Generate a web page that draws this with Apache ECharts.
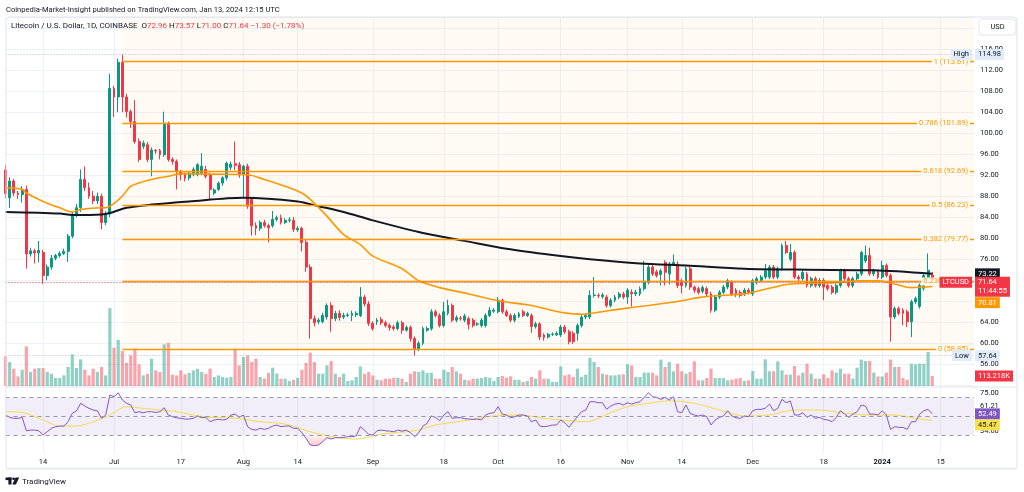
<!DOCTYPE html>
<html>
<head>
<meta charset="utf-8">
<script src="https://cdn.jsdelivr.net/npm/echarts@6/dist/echarts.min.js"></script>
<style>
html,body{margin:0;padding:0;background:#fff}
#chart{width:1024px;height:492px}
</style>
</head>
<body>
<div id="chart"></div>
<script>
// LTC/USD daily, 2023-06-05 .. 2024-01-13 (plus empty slots on the right)
const startDate = '2023-06-05'
const slotCount = 233

const opens = [
  93.0, 87.7, 90.9, 88.6, 88.3, 89.3, 77.0, 77.6, 77.2, 77.3,
  72.9, 74.5, 76.2, 76.7, 77.1, 77.5, 80.4, 84.6, 85.8, 91.2,
  89.6, 88.0, 87.1, 88.0, 83.0, 84.6, 108.5, 106.9, 113.5, 106.9,
  104.1, 102.2, 98.4, 97.5, 97.8, 95.0, 96.7, 96.7, 95.9, 101.9,
  95.0, 94.6, 92.7, 92.1, 91.5, 92.1, 92.1, 92.4, 93.1, 92.1,
  88.6, 89.3, 90.5, 91.5, 93.5, 94.2, 94.0, 92.1, 93.7, 87.4,
  82.4, 81.9, 83.0, 82.4, 82.4, 83.6, 83.9, 83.0, 83.4, 83.4,
  81.6, 81.9, 79.2, 74.5, 64.7, 64.1, 64.1, 65.0, 67.2, 64.7,
  65.7, 65.0, 65.3, 65.3, 65.4, 65.3, 68.8, 67.5, 63.8, 64.1,
  64.5, 63.9, 63.4, 63.1, 62.8, 63.9, 62.5, 63.0, 60.9, 58.9,
  60.0, 62.5, 62.8, 66.0, 65.3, 63.4, 65.7, 67.2, 64.4, 64.8,
  64.4, 64.7, 64.4, 63.6, 63.4, 63.4, 65.3, 66.1, 66.0, 68.2,
  66.0, 65.3, 64.4, 65.1, 66.0, 65.3, 65.3, 63.2, 63.7, 61.6,
  61.2, 61.7, 61.6, 61.6, 63.1, 62.2, 61.9, 61.9, 63.4, 65.0,
  65.0, 69.1, 69.1, 68.9, 68.8, 67.2, 68.2, 68.8, 69.4, 68.8,
  69.7, 69.4, 69.4, 70.4, 71.6, 74.5, 73.6, 73.1, 75.4, 73.2,
  75.1, 75.1, 71.9, 71.0, 74.2, 70.7, 70.4, 69.9, 70.4, 69.4,
  66.3, 68.8, 69.7, 70.7, 71.6, 70.1, 69.7, 69.4, 70.1, 69.4,
  71.6, 72.0, 72.6, 72.6, 74.5, 72.6, 74.2, 78.6, 76.0, 77.3,
  72.6, 72.3, 73.2, 71.0, 72.3, 71.0, 72.0, 71.0, 70.7, 69.7,
  71.0, 73.8, 72.3, 71.0, 72.3, 73.2, 75.7, 76.7, 73.2, 73.6,
  72.6, 74.8, 72.9, 65.0, 66.6, 66.3, 66.0, 64.1, 67.9, 67.0,
  70.5, 72.0, 72.96
]
const closes = [
  88.5, 90.9, 88.6, 88.3, 89.3, 77.0, 77.6, 77.2, 77.7, 72.9,
  74.5, 76.2, 76.7, 77.1, 77.5, 80.4, 84.6, 85.8, 91.2, 89.6,
  88.0, 87.1, 88.0, 83.0, 84.6, 108.5, 106.9, 113.5, 106.9, 104.1,
  102.2, 98.4, 95.0, 98.1, 95.0, 96.8, 96.6, 95.9, 101.9, 95.0,
  94.6, 92.7, 92.1, 91.4, 92.4, 93.1, 94.0, 93.7, 91.8, 89.3,
  89.2, 90.5, 91.5, 94.3, 94.1, 93.9, 92.1, 93.7, 86.1, 82.4,
  81.9, 83.0, 82.4, 82.0, 83.6, 83.9, 83.0, 83.4, 83.5, 81.7,
  81.9, 79.2, 74.5, 64.7, 63.9, 64.4, 65.3, 67.2, 64.7, 65.7,
  64.9, 65.3, 65.4, 65.7, 65.7, 68.8, 67.5, 63.8, 62.8, 64.4,
  63.9, 63.4, 63.0, 62.8, 63.9, 62.5, 63.0, 60.9, 59.0, 60.0,
  62.8, 62.8, 66.0, 65.3, 63.4, 66.0, 67.2, 64.4, 64.9, 64.7,
  65.2, 63.6, 63.4, 63.7, 64.4, 65.3, 66.3, 66.3, 68.2, 66.0,
  65.3, 64.4, 65.3, 65.6, 65.3, 65.7, 63.2, 63.7, 61.2, 61.1,
  61.7, 61.75, 61.9, 63.1, 62.2, 60.3, 60.3, 63.4, 65.0, 65.3,
  69.1, 69.2, 69.0, 69.2, 67.2, 68.2, 68.8, 69.4, 68.8, 70.1,
  69.4, 69.7, 70.4, 71.6, 74.5, 73.2, 72.9, 73.8, 73.5, 75.1,
  75.4, 71.0, 71.0, 74.2, 70.7, 70.1, 69.7, 70.6, 69.4, 66.3,
  68.8, 69.7, 70.7, 71.9, 69.4, 69.4, 69.1, 70.1, 69.7, 71.9,
  72.3, 72.6, 73.8, 74.5, 72.6, 74.2, 78.6, 77.3, 77.3, 72.6,
  72.3, 73.5, 71.0, 72.3, 71.0, 72.0, 70.7, 70.4, 69.7, 71.0,
  73.8, 72.3, 71.0, 72.3, 73.2, 77.3, 76.7, 73.2, 73.8, 72.6,
  74.8, 72.9, 65.0, 66.6, 65.7, 65.7, 64.1, 67.9, 68.5, 71.0,
  72.9, 73.9, 71.64
]
const lows = [
  87.6, 85.8, 88.0, 87.5, 86.8, 74.2, 76.5, 75.2, 75.4, 71.3,
  72.0, 74.0, 75.8, 76.3, 76.8, 75.5, 80.0, 84.0, 85.0, 89.0,
  87.5, 86.5, 86.5, 81.7, 82.5, 84.0, 103.1, 104.0, 104.0, 103.0,
  101.0, 98.0, 94.5, 97.0, 94.5, 91.8, 96.0, 95.0, 95.5, 94.6,
  94.0, 89.3, 91.0, 90.8, 91.0, 91.8, 91.8, 92.0, 91.4, 87.5,
  88.2, 89.0, 90.0, 91.0, 93.0, 93.0, 91.5, 87.7, 85.6, 80.5,
  80.6, 81.4, 82.0, 79.2, 82.0, 83.2, 82.6, 82.7, 83.0, 81.2,
  81.2, 77.5, 73.6, 60.9, 63.2, 63.6, 63.8, 64.5, 62.2, 64.2,
  64.3, 64.6, 65.0, 64.2, 65.0, 65.0, 67.0, 63.3, 62.4, 63.5,
  63.5, 63.0, 62.4, 62.4, 62.5, 61.8, 62.2, 60.3, 57.64, 58.5,
  59.6, 62.2, 62.4, 64.9, 63.0, 63.0, 65.3, 64.0, 64.0, 64.3,
  64.0, 62.6, 63.0, 63.3, 63.0, 63.0, 65.0, 65.8, 65.7, 65.6,
  65.0, 64.0, 64.0, 64.8, 65.0, 65.0, 62.0, 62.8, 60.6, 60.5,
  60.9, 61.4, 61.4, 61.2, 61.8, 59.8, 59.9, 60.5, 63.0, 64.6,
  64.6, 68.7, 68.6, 68.5, 66.8, 66.8, 67.8, 68.4, 68.4, 67.5,
  67.0, 69.0, 69.0, 70.0, 71.2, 72.8, 72.5, 71.0, 71.0, 71.2,
  74.8, 70.5, 69.5, 70.6, 70.2, 69.6, 69.3, 69.5, 69.0, 65.8,
  65.9, 68.4, 69.3, 70.3, 69.0, 68.8, 68.7, 69.0, 69.3, 69.0,
  71.2, 71.6, 72.2, 72.2, 72.2, 72.2, 73.8, 77.0, 75.6, 72.2,
  71.5, 71.9, 70.6, 70.6, 70.6, 70.6, 68.2, 70.0, 69.3, 69.3,
  70.6, 71.9, 70.6, 70.6, 71.9, 72.8, 75.3, 72.8, 72.8, 72.2,
  72.2, 72.5, 60.3, 64.6, 65.3, 63.4, 63.1, 61.2, 67.5, 66.6,
  70.0, 71.6, 71.00
]
const highs = [
  94.0, 91.6, 91.3, 89.0, 89.9, 90.0, 78.2, 78.0, 79.5, 77.8,
  75.0, 76.8, 77.0, 77.5, 78.0, 80.8, 85.0, 86.5, 93.1, 93.7,
  90.6, 89.0, 88.7, 88.5, 85.2, 111.3, 109.0, 114.2, 114.98, 107.5,
  104.5, 106.3, 99.0, 98.6, 98.3, 97.3, 97.0, 97.0, 104.1, 102.2,
  95.4, 95.0, 93.0, 92.5, 92.8, 93.5, 94.3, 96.2, 93.8, 92.5,
  89.5, 90.8, 91.8, 94.6, 94.6, 98.4, 94.5, 94.0, 94.2, 87.8,
  83.0, 83.4, 83.5, 82.8, 85.2, 84.3, 84.5, 83.8, 84.0, 84.0,
  82.3, 82.2, 79.7, 75.0, 65.3, 64.8, 65.8, 67.6, 67.8, 66.2,
  66.3, 65.8, 65.8, 66.2, 66.1, 70.7, 69.2, 68.0, 64.2, 64.8,
  65.0, 64.3, 63.8, 63.5, 64.3, 64.3, 63.4, 63.4, 61.3, 60.4,
  63.2, 63.2, 66.5, 66.4, 65.7, 67.9, 68.3, 67.6, 65.3, 65.2,
  65.6, 65.1, 64.8, 64.0, 64.8, 65.7, 66.9, 66.7, 68.8, 68.5,
  66.4, 65.7, 65.7, 66.0, 66.4, 66.0, 65.7, 64.1, 64.0, 61.9,
  62.0, 62.1, 62.3, 63.5, 63.5, 62.6, 62.3, 63.8, 65.4, 65.7,
  70.1, 72.6, 69.5, 69.6, 69.2, 68.6, 69.2, 69.8, 69.8, 70.5,
  70.3, 70.2, 70.8, 75.7, 75.0, 74.9, 74.0, 74.2, 75.8, 75.5,
  76.9, 75.6, 72.3, 74.6, 74.6, 71.0, 70.8, 71.0, 70.8, 69.8,
  69.2, 70.1, 71.1, 72.3, 72.0, 70.5, 70.1, 70.5, 70.5, 72.3,
  72.7, 73.0, 75.1, 74.9, 74.9, 74.6, 79.0, 79.5, 78.9, 77.7,
  73.0, 73.9, 73.6, 72.7, 72.7, 72.4, 72.4, 71.4, 71.1, 71.4,
  74.2, 74.2, 72.7, 72.7, 73.6, 77.6, 78.6, 78.2, 74.2, 74.0,
  75.7, 75.2, 73.3, 67.0, 67.0, 66.7, 66.4, 68.3, 68.9, 71.4,
  73.3, 77.1, 73.57
]
// volume in thousands
const volumes = [
  335, 271, 196, 109, 184, 448, 158, 196, 203, 203,
  158, 139, 90, 90, 120, 215, 358, 203, 301, 184,
  120, 196, 158, 215, 120, 880, 433, 520, 395, 260,
  347, 422, 245, 120, 139, 309, 177, 158, 471, 486,
  128, 120, 177, 132, 147, 177, 196, 158, 139, 196,
  102, 120, 102, 94, 102, 422, 233, 328, 347, 271,
  309, 102, 83, 147, 207, 139, 83, 83, 56, 71,
  94, 184, 260, 377, 271, 139, 139, 233, 282, 139,
  102, 139, 56, 64, 102, 222, 139, 158, 120, 71,
  64, 83, 83, 94, 94, 83, 45, 139, 166, 158,
  177, 147, 151, 83, 83, 184, 158, 215, 166, 139,
  71, 64, 83, 83, 90, 102, 94, 56, 102, 113,
  94, 109, 71, 71, 45, 56, 102, 83, 177, 83,
  83, 45, 45, 222, 120, 132, 102, 196, 102, 128,
  320, 271, 215, 139, 128, 120, 120, 128, 132, 245,
  233, 102, 102, 151, 151, 151, 120, 298, 215, 271,
  166, 252, 166, 139, 158, 279, 64, 64, 90, 196,
  90, 90, 90, 64, 71, 83, 90, 56, 64, 169,
  83, 83, 301, 166, 166, 279, 177, 128, 128, 226,
  120, 151, 252, 139, 83, 83, 132, 90, 177, 151,
  196, 139, 139, 83, 207, 298, 282, 282, 151, 109,
  109, 151, 298, 215, 215, 90, 71, 252, 245, 252,
  252, 384, 113.218
]
const rsiValues = [
  51.3, 48.8, 47.8, 47.8, 48.8, 34.6, 35.3, 35.3, 34.6, 30.1,
  33.6, 37.2, 38.9, 39.6, 39.6, 44.2, 53.1, 55.5, 63.7, 60.8,
  58.4, 56.6, 55.8, 47.8, 51.3, 72.5, 70.7, 74.9, 67.2, 63.7,
  61.9, 53.7, 54.8, 53.7, 54.8, 54.8, 54.0, 54.8, 59.0, 51.3,
  49.5, 48.4, 47.8, 47.0, 47.0, 47.8, 50.2, 48.4, 48.8, 44.2,
  46.0, 46.7, 46.0, 46.7, 51.3, 52.3, 48.8, 51.3, 38.9, 36.1,
  35.3, 37.2, 36.1, 37.2, 39.6, 40.7, 38.9, 39.6, 39.6, 37.2,
  37.2, 32.5, 26.6, 19.5, 18.7, 19.5, 23.0, 27.2, 25.8, 27.2,
  27.2, 27.6, 28.3, 28.3, 29.0, 38.9, 35.3, 30.8, 30.1, 34.6,
  35.3, 34.6, 34.2, 33.6, 35.3, 34.2, 35.3, 32.5, 28.3, 32.5,
  39.6, 42.5, 50.2, 48.8, 45.3, 51.3, 54.8, 47.8, 48.4, 48.5,
  47.4, 47.0, 46.7, 47.0, 46.0, 51.3, 53.1, 53.7, 60.1, 52.3,
  51.3, 48.4, 49.5, 51.3, 51.3, 50.2, 44.2, 46.0, 39.6, 38.9,
  39.6, 40.7, 40.7, 46.0, 43.1, 38.2, 44.2, 49.5, 54.8, 56.6,
  65.4, 65.4, 64.3, 64.3, 57.3, 60.8, 62.9, 63.7, 61.9, 64.3,
  62.9, 64.3, 65.4, 70.0, 74.9, 70.7, 70.0, 67.9, 70.0, 67.2,
  70.7, 54.8, 53.7, 61.9, 53.1, 51.3, 50.2, 51.3, 49.5, 40.7,
  46.0, 48.8, 50.2, 55.8, 50.2, 48.4, 47.8, 50.2, 49.5, 55.8,
  57.3, 57.3, 58.4, 62.9, 55.8, 58.4, 67.9, 64.3, 66.1, 51.3,
  51.3, 53.7, 48.8, 51.3, 47.8, 48.8, 46.7, 46.0, 44.2, 48.8,
  55.8, 52.3, 48.8, 52.3, 54.8, 61.9, 60.8, 52.3, 52.3, 51.3,
  55.8, 51.3, 36.1, 38.9, 38.2, 38.2, 36.1, 44.2, 44.2, 52.3,
  55.8, 57.3, 52.49
]
// moving averages read at a few points: [day index, value]
const ma200Points = [
  [0, 85.0], [13, 84.7], [16, 84.4], [23, 84.5], [25, 84.8], [29, 85.8], [35, 86.4],
  [44, 87.0], [57, 87.7], [70, 87.0], [75, 86.1], [81, 85.0], [88, 83.4], [100, 81.0],
  [110, 79.5], [120, 78.0], [131, 76.8], [140, 76.0], [152, 75.2], [163, 74.8],
  [177, 74.2], [192, 74.0], [208, 73.9], [222, 73.22]
]
const ma50Points = [
  [0, 89.6], [4, 89.3], [5, 88.6], [9, 87.0], [13, 85.8], [16, 85.0], [18, 85.5],
  [23, 85.8], [24, 85.8], [28, 88.0], [30, 89.9], [35, 91.2], [39, 91.8], [42, 92.3],
  [49, 92.2], [58, 92.1], [62, 91.2], [67, 89.9], [71, 88.6], [73, 87.4], [77, 84.2],
  [81, 80.7], [85, 78.8], [88, 76.6], [95, 74.2], [99, 71.9], [104, 70.6], [111, 69.4],
  [118, 68.1], [126, 67.2], [133, 65.9], [138, 65.5], [142, 65.9], [147, 66.5],
  [154, 67.2], [162, 68.1], [166, 68.7], [171, 69.1], [177, 69.4], [182, 70.3],
  [188, 71.3], [193, 71.4], [200, 71.6], [205, 71.9], [209, 71.9], [213, 71.3],
  [217, 70.6], [222, 70.81]
]
const rsiMaPoints = [
  [0, 54.8], [4, 54.0], [9, 46.0], [13, 39.6], [17, 39.6], [21, 44.2], [25, 51.3],
  [29, 60.1], [33, 58.4], [37, 56.6], [41, 54.8], [45, 51.3], [49, 48.8], [55, 47.8],
  [61, 44.2], [67, 41.7], [73, 33.6], [79, 27.6], [84, 25.8], [89, 30.1], [93, 32.5],
  [98, 34.6], [103, 40.7], [111, 46.0], [117, 50.2], [123, 51.3], [129, 47.8],
  [133, 46.0], [139, 44.2], [145, 53.7], [149, 60.1], [155, 64.3], [159, 66.4],
  [165, 63.7], [171, 56.6], [177, 50.2], [183, 51.3], [189, 56.6], [195, 56.6],
  [201, 53.1], [207, 51.3], [213, 51.3], [218, 47.8], [222, 45.47]
]
const fibStartIndex = 28
const fibRatios = ['1', '0.786', '0.618', '0.5', '0.382', '0.236', '0']
const fibPrices = [113.61, 101.89, 92.69, 86.23, 79.77, 71.77, 58.85]
const highPrice = 114.98
const lowPrice = 57.64
const lastChange = '−1.30 (−1.78%)'
const countdown = '11:44:55'
const rsiAxisValues = [75, 61.21, 34.6]
const rsiBands = [70, 50, 30]
const tickDates = ['2023-06-14', '2023-07-01', '2023-07-17', '2023-08-01', '2023-08-14', '2023-09-01',
  '2023-09-18', '2023-10-01', '2023-10-16', '2023-11-01', '2023-11-14', '2023-12-01', '2023-12-18',
  '2024-01-01', '2024-01-15']
const tickLabels = ['14', 'Jul', '17', 'Aug', '14', 'Sep', '18', 'Oct', '16', 'Nov', '14', 'Dec', '18', '2024', '15']

const dates = []
for (let i = 0; i < slotCount; i++) {
  dates.push(new Date(Date.parse(startDate + 'T00:00:00Z') + i * 86400000).toISOString().slice(0, 10))
}
const last = closes.length - 1
const up = '#089981', down = '#f23645'
const font = 'Roboto, "Liberation Sans", sans-serif'
const txt = '#131722'
const fs = 7.5

const candleData = opens.map((o, i) => [o, closes[i], lows[i], highs[i]])
const volData = volumes.map((v, i) => ({
  value: v,
  itemStyle: { color: closes[i] >= opens[i] ? 'rgba(8,153,129,0.45)' : 'rgba(242,54,69,0.45)' }
}))
const isTick = (idx, val) => tickDates.indexOf(val) >= 0

const fibLines = fibRatios.map((r, k) => [
  {
    name: r + ' (' + fibPrices[k].toFixed(2) + ')',
    coord: [dates[fibStartIndex], fibPrices[k]],
    lineStyle: { color: '#ff9800', width: 1.3, type: 'solid' },
    label: {
      show: true, position: 'insideEnd', formatter: '{b}', color: '#ff9800', fontSize: fs,
      fontFamily: font, backgroundColor: '#fffbf5', padding: [0, 2], distance: 4
    }
  },
  { coord: [dates[slotCount - 1], fibPrices[k]] }
])

const chart = echarts.init(document.getElementById('chart'))
const option = {
  animation: false,
  backgroundColor: '#fff',
  textStyle: { fontFamily: font },
  grid: [
    { left: 5.5, right: 50, top: 17, bottom: 106.7, containLabel: false, outerBoundsMode: 'none' },
    { left: 5.5, right: 50, top: 17, bottom: 106, containLabel: false, outerBoundsMode: 'none' },
    { left: 5.5, right: 50, top: 387, bottom: 39, containLabel: false, outerBoundsMode: 'none' }
  ],
  xAxis: [0, 1, 2].map(g => ({
    type: 'category', gridIndex: g, data: dates, boundaryGap: false,
    axisLine: { show: false }, axisTick: { show: false },
    axisLabel: {
      show: g === 2, interval: isTick, margin: 5, color: txt, fontSize: fs,
      formatter: v => {
        const lab = tickLabels[tickDates.indexOf(v)]
        return lab === '2024' ? '{b|2024}' : lab
      },
      rich: { b: { fontWeight: 'bold', fontSize: fs, color: txt } }
    },
    splitLine: { show: g !== 1, interval: isTick, lineStyle: { color: '#eef1f6', width: 1 } }
  })),
  yAxis: [
    {
      type: 'value', gridIndex: 0, position: 'right', min: 52, max: 122.12, interval: 4,
      axisLine: { show: false }, axisTick: { show: false },
      axisLabel: { margin: 6, color: txt, fontSize: fs, formatter: v => (v < 56 || v > 116) ? '' : v.toFixed(2) },
      splitLine: { lineStyle: { color: '#eef1f6' } }
    },
    { type: 'value', gridIndex: 1, min: 0, max: 4170, show: false, splitLine: { show: false } },
    {
      type: 'value', gridIndex: 2, position: 'right', min: 11, max: 81,
      axisLine: { show: false }, axisTick: { show: false }, splitLine: { show: false },
      axisLabel: { customValues: rsiAxisValues, margin: 6, color: txt, fontSize: fs, formatter: v => v.toFixed(2) }
    }
  ],
  series: [
    {
      type: 'bar', name: 'Volume', xAxisIndex: 1, yAxisIndex: 1, data: volData, barWidth: 3.2, z: 1
    },
    {
      type: 'candlestick', name: 'LTCUSD', xAxisIndex: 0, yAxisIndex: 0, data: candleData, barWidth: 2.4, z: 3,
      itemStyle: { color: up, color0: down, borderColor: up, borderColor0: down, borderWidth: 1 },
      markArea: {
        silent: true,
        itemStyle: { color: 'rgba(255,152,0,0.045)' },
        data: [[{ xAxis: dates[fibStartIndex], yAxis: fibPrices[fibPrices.length - 1] }, { xAxis: dates[slotCount - 1] }]]
      },
      markLine: {
        silent: true, symbol: ['none', 'none'],
        label: { show: false },
        data: fibLines.concat([
          [{ coord: [dates[0], highPrice], lineStyle: { color: '#b2b5be', type: [1, 2], width: 1 }, label: { show: false } },
           { coord: [dates[slotCount - 1], highPrice] }],
          [{ coord: [dates[0], lowPrice], lineStyle: { color: '#b2b5be', type: [1, 2], width: 1 }, label: { show: false } },
           { coord: [dates[slotCount - 1], lowPrice] }],
          { yAxis: closes[last], lineStyle: { color: down, type: [1, 2], width: 1 }, label: { show: false } }
        ])
      }
    },
    {
      type: 'line', name: 'MA 200', xAxisIndex: 0, yAxisIndex: 0, data: ma200Points, symbol: 'none', smooth: 0.3,
      lineStyle: { color: '#131722', width: 2 }, z: 4
    },
    {
      type: 'line', name: 'MA 50', xAxisIndex: 0, yAxisIndex: 0, data: ma50Points, symbol: 'none', smooth: 0.3,
      lineStyle: { color: '#ff9800', width: 1.6 }, z: 4
    },
    {
      type: 'line', name: 'RSI', xAxisIndex: 2, yAxisIndex: 2, data: rsiValues, symbol: 'none',
      lineStyle: { color: '#7e57c2', width: 1 }, z: 4,
      markArea: { silent: true, itemStyle: { color: 'rgba(126,87,194,0.1)' }, data: [[{ yAxis: rsiBands[0] }, { yAxis: rsiBands[2] }]] },
      markLine: {
        silent: true, symbol: ['none', 'none'], label: { show: false },
        lineStyle: { color: '#9598a1', type: [4, 4], width: 1 },
        data: rsiBands.map(v => ({ yAxis: v }))
      }
    },
    {
      type: 'line', name: 'RSI MA', xAxisIndex: 2, yAxisIndex: 2, data: rsiMaPoints, symbol: 'none', smooth: 0.3,
      lineStyle: { color: '#f5d94a', width: 1 }, z: 3
    },
    {
      type: 'line', name: 'Oversold', xAxisIndex: 2, yAxisIndex: 2, symbol: 'none', z: 2,
      data: rsiValues.map(v => v < rsiBands[2] ? v : null),
      lineStyle: { width: 0 },
      areaStyle: {
        origin: rsiBands[2],
        color: new echarts.graphic.LinearGradient(0, 0, 0, 1, [
          { offset: 0, color: 'rgba(242,54,69,0.08)' }, { offset: 1, color: 'rgba(242,54,69,0.4)' }
        ])
      }
    }
  ]
}
chart.setOption(option)

// price tags on the right scale, placed through the axes
const gridRight = chart.convertToPixel({ xAxisIndex: 0 }, slotCount - 1)
const py = v => chart.convertToPixel({ yAxisIndex: 0 }, v)
const vy = v => chart.convertToPixel({ yAxisIndex: 1 }, v)
const ry = v => chart.convertToPixel({ yAxisIndex: 2 }, v)

function tag(x, y, text, bg, fg, align, vAlign) {
  return {
    type: 'text', x: x, y: y, z: 100, silent: true,
    style: {
      text: text, fill: fg, backgroundColor: bg, padding: [1, 3, 1, 3], fontSize: fs, fontFamily: font,
      lineHeight: 9, align: align || 'left', verticalAlign: vAlign || 'middle'
    }
  }
}
const tx = gridRight + 1
const yLast = py(closes[last])
const redBottom = yLast - 5.5 + 20
const ma50Last = ma50Points[ma50Points.length - 1][1]
const ma200Last = ma200Points[ma200Points.length - 1][1]
const rsiLast = rsiValues[last]
const rsiMaLast = rsiMaPoints[rsiMaPoints.length - 1][1]
const yRsi = ry(rsiLast)
const rsiTop = ry(81)

const graphics = [
  { type: 'text', x: 6, y: 10, style: { text: 'Coinpedia-Market-Insight published on TradingView.com, Jan 13, 2024 12:15 UTC', fill: txt, fontSize: 7.6, fontFamily: font, verticalAlign: 'middle' } },
  { type: 'rect', shape: { x: 6, y: 17, width: 1011, height: 452, r: 3 }, style: { fill: 'none', stroke: '#e0e3eb', lineWidth: 1 }, z: 90, silent: true },
  { type: 'rect', shape: { x: 6, y: 467.5, width: 1011, height: 2.5 }, style: { fill: '#eceef2' }, z: 90, silent: true },
  { type: 'line', shape: { x1: 6, y1: rsiTop, x2: 1017, y2: rsiTop }, style: { stroke: '#e0e3eb', lineWidth: 1 }, z: 90, silent: true },
  {
    type: 'text', x: 11, y: 26, z: 100,
    style: {
      text: '{n|Litecoin / U.S. Dollar, 1D, COINBASE}  {k|O}{v|' + opens[last].toFixed(2) + '} {k|H}{v|' + highs[last].toFixed(2) +
        '} {k|L}{v|' + lows[last].toFixed(2) + '} {k|C}{v|' + closes[last].toFixed(2) + '} {v|' + lastChange + '}',
      verticalAlign: 'middle', fontFamily: font, fontSize: 8,
      rich: {
        n: { fill: txt, fontSize: 8, fontFamily: font },
        k: { fill: txt, fontSize: 8, fontFamily: font },
        v: { fill: down, fontSize: 8, fontFamily: font }
      }
    }
  },
  { type: 'rect', shape: { x: 979, y: 19, width: 37, height: 16, r: 3 }, style: { fill: '#fff', stroke: '#e0e3eb', lineWidth: 1 }, z: 101 },
  { type: 'text', x: 997.5, y: 27, z: 102, style: { text: 'USD', fill: txt, fontSize: fs, fontFamily: font, align: 'center', verticalAlign: 'middle' } },
  // footer logo + name
  { type: 'rect', shape: { x: 5.5, y: 477.5, width: 6, height: 2.6 }, style: { fill: txt } },
  { type: 'rect', shape: { x: 8.4, y: 477.5, width: 3.1, height: 7 }, style: { fill: txt } },
  { type: 'circle', shape: { cx: 13.6, cy: 478.8, r: 1.4 }, style: { fill: txt } },
  { type: 'polygon', shape: { points: [[15.6, 477.5], [19.2, 477.5], [15.9, 484.5], [12.3, 484.5]] }, style: { fill: txt } },
  { type: 'text', x: 22, y: 481.5, style: { text: 'TradingView', fill: txt, fontSize: 8, fontFamily: font, verticalAlign: 'middle' } },
  // tags
  tag(gridRight - 2, py(highPrice), 'High', '#e1ecfb', txt, 'right'),
  tag(tx, py(highPrice), highPrice.toFixed(2), '#e1ecfb', txt),
  tag(tx, py(ma200Last), ma200Last.toFixed(2), '#131722', '#fff'),
  tag(tx, yLast - 5.5, closes[last].toFixed(2) + '\n' + countdown, down, '#fff', 'left', 'top'),
  tag(tx, Math.max(py(ma50Last), redBottom + 6), ma50Last.toFixed(2), '#ff9800', '#fff'),
  tag(gridRight - 2, yLast, 'LTCUSD', down, '#fff', 'right'),
  tag(gridRight - 2, py(lowPrice), 'Low', '#e1ecfb', txt, 'right'),
  tag(tx, py(lowPrice), lowPrice.toFixed(2), '#e1ecfb', txt),
  tag(tx, vy(volumes[last]), volumes[last].toFixed(3) + 'K', down, '#fff'),
  tag(tx, yRsi, rsiLast.toFixed(2), '#7e57c2', '#fff'),
  tag(tx, Math.max(ry(rsiMaLast), yRsi + 11), rsiMaLast.toFixed(2), '#f7e04b', txt)
]
chart.setOption({ graphic: graphics })
</script>
</body>
</html>
